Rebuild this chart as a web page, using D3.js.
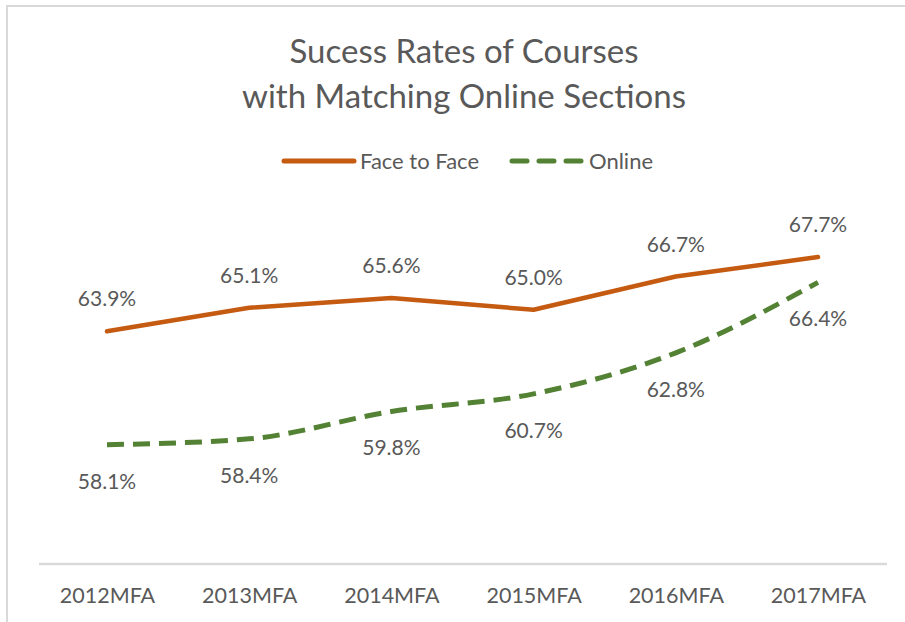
<!DOCTYPE html>
<html><head><meta charset="utf-8">
<script src="https://cdn.jsdelivr.net/npm/d3@7"></script>
<style>body{margin:0;background:#fff;}svg{display:block;}</style>
</head><body>
<svg id="c" width="905" height="622"></svg>
<script>
const categories = ["2012MFA","2013MFA","2014MFA","2015MFA","2016MFA","2017MFA"];
const faceToFace = [63.9, 65.1, 65.6, 65.0, 66.7, 67.7];
const online = [58.1, 58.4, 59.8, 60.7, 62.8, 66.4];
const seriesNames = ["Face to Face", "Online"];
const titleLines = ["Sucess Rates of Courses", "with Matching Online Sections"];

const svg = d3.select("#c");
const FONT = "Lato, 'Open Sans', sans-serif";
const TXT = "#595959";
const ORANGE = "#C55A11", GREEN = "#548235";

// border
svg.append("rect").attr("x",7).attr("y",6).attr("width",920).attr("height",640)
  .attr("fill","#fff").attr("stroke","#d9d9d9").attr("stroke-width",2);

const x = d3.scalePoint().domain(categories).range([107, 818]);
const y = d3.scaleLinear().domain([52, 70]).range([564, 212]);

// title
svg.append("g").selectAll("text").data(titleLines).join("text")
  .attr("x", 464).attr("y", (d,i)=>63 + i*45)
  .attr("text-anchor","middle").attr("font-family",FONT).attr("font-size",33)
  .attr("fill",TXT).text(d=>d);

// legend
const lg = svg.append("g");
lg.append("line").attr("x1",284).attr("x2",354).attr("y1",161).attr("y2",161)
  .attr("stroke",ORANGE).attr("stroke-width",5).attr("stroke-linecap","round");
lg.append("text").attr("x",360).attr("y",168.5).attr("font-family",FONT).attr("font-size",22)
  .attr("fill",TXT).text(seriesNames[0]);
lg.append("line").attr("x1",512).attr("x2",581).attr("y1",161).attr("y2",161)
  .attr("stroke",GREEN).attr("stroke-width",5).attr("stroke-linecap","round").attr("stroke-dasharray","15,12");
lg.append("text").attr("x",589).attr("y",168.5).attr("font-family",FONT).attr("font-size",22)
  .attr("fill",TXT).text(seriesNames[1]);

// axis
const xAxis = d3.axisBottom(x).tickSize(0).tickPadding(24);
const ag = svg.append("g").attr("transform",`translate(0,${y(52)})`).call(xAxis);
ag.select(".domain").remove();
ag.append("line").attr("x1",39).attr("x2",887).attr("y1",0).attr("y2",0)
  .attr("stroke","#d9d9d9").attr("stroke-width",2.5);
ag.selectAll(".tick text").attr("font-family",FONT).attr("font-size",21.5).attr("fill",TXT);

// lines
const ffData = categories.map((c,i)=>({c, v: faceToFace[i]}));
const onData = categories.map((c,i)=>({c, v: online[i]}));
const lineLin = d3.line().x(d=>x(d.c)).y(d=>y(d.v));
const lineSm = d3.line().x(d=>x(d.c)).y(d=>y(d.v)).curve(d3.curveMonotoneX);

svg.append("path").datum(ffData).attr("d",lineLin).attr("fill","none")
  .attr("stroke",ORANGE).attr("stroke-width",4.5).attr("stroke-linejoin","round").attr("stroke-linecap","round");
svg.append("path").datum(onData).attr("d",lineSm).attr("fill","none")
  .attr("stroke",GREEN).attr("stroke-width",5).attr("stroke-dasharray","17,9");

// data labels
svg.append("g").selectAll("text").data(ffData).join("text")
  .attr("x",d=>x(d.c)).attr("y",d=>y(d.v)-25)
  .attr("text-anchor","middle").attr("font-family",FONT).attr("font-size",21).attr("fill",TXT)
  .text(d=>d.v.toFixed(1)+"%");
svg.append("g").selectAll("text").data(onData).join("text")
  .attr("x",d=>x(d.c)).attr("y",d=>y(d.v)+44)
  .attr("text-anchor","middle").attr("font-family",FONT).attr("font-size",21).attr("fill",TXT)
  .text(d=>d.v.toFixed(1)+"%");
</script>
</body></html>
